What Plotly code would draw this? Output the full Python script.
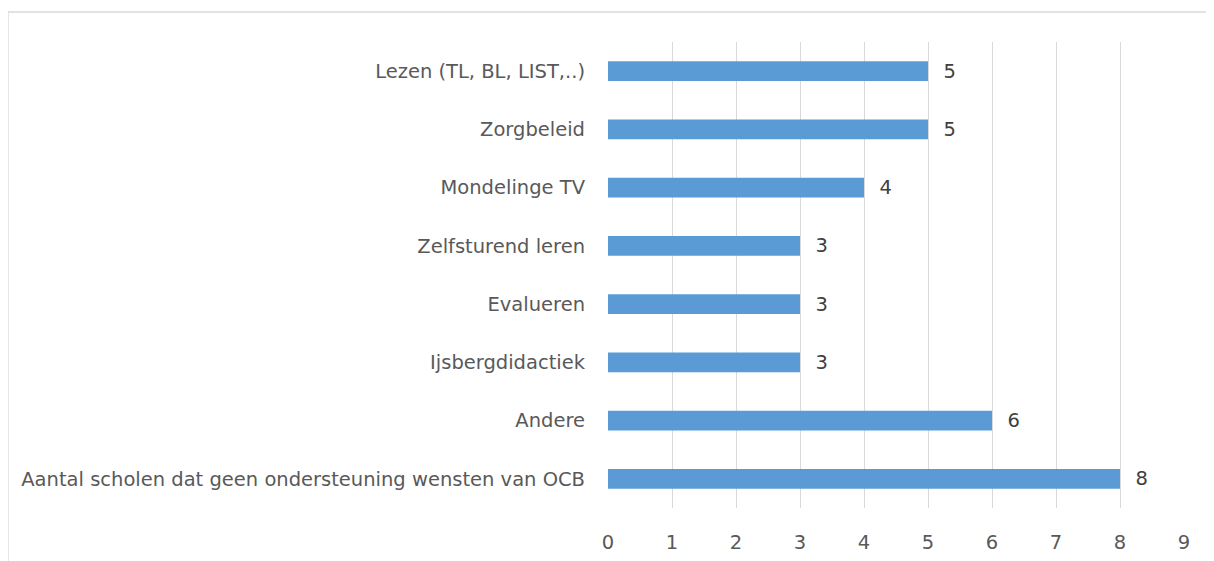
import plotly.graph_objects as go

categories = [
    "Aantal scholen dat geen ondersteuning wensten van OCB",
    "Andere",
    "Ijsbergdidactiek",
    "Evalueren",
    "Zelfsturend leren",
    "Mondelinge TV",
    "Zorgbeleid",
    "Lezen (TL, BL, LIST,..)",
]
values = [8, 6, 3, 3, 3, 4, 5, 5]
x_ticks = [0, 1, 2, 3, 4, 5, 6, 7, 8, 9]

FONT = "DejaVu Sans"
FS = 19.5

# page offset of 8px (body margin) is compensated in margins
L, R, T, B = 600, 38, 34, 61
PW = 1214 - L - R
PH = 561 - T - B

fig = go.Figure(
    go.Bar(
        y=categories,
        x=values,
        orientation="h",
        marker=dict(color="#5B9BD5", line=dict(width=0)),
        text=[f"  {v}" for v in values],
        textposition="outside",
        constraintext="none",
        textfont=dict(family=FONT, size=FS, color="#404040"),
        cliponaxis=False,
        width=0.34,
    )
)

fig.update_layout(
    width=1214,
    height=561,
    margin=dict(l=L, r=R, t=T, b=B),
    paper_bgcolor="white",
    plot_bgcolor="white",
    showlegend=False,
    font=dict(family=FONT, size=FS, color="#595959"),
    xaxis=dict(
        range=[0, 9],
        tickvals=x_ticks,
        ticktext=[str(t) for t in x_ticks],
        showgrid=True,
        gridcolor="#D9D9D9",
        gridwidth=1.3,
        zeroline=False,
        showline=False,
        ticks="",
        ticklabelstandoff=20,
        tickfont=dict(family=FONT, size=FS, color="#595959"),
        fixedrange=True,
    ),
    yaxis=dict(
        showgrid=False,
        zeroline=False,
        showline=False,
        ticks="",
        ticklabelstandoff=22,
        tickfont=dict(family=FONT, size=FS, color="#595959"),
        range=[-0.5, 7.5],
    ),
    shapes=[
        dict(
            type="rect",
            xref="paper",
            yref="paper",
            x0=(0 - L) / PW,
            x1=(1204 - L) / PW,
            y0=-(B + 20) / PH,
            y1=(PH + T - 4) / PH,
            line=dict(color="#D9D9D9", width=1.3),
            fillcolor="rgba(0,0,0,0)",
            layer="below",
        )
    ],
)

fig.write_html("out.html")
